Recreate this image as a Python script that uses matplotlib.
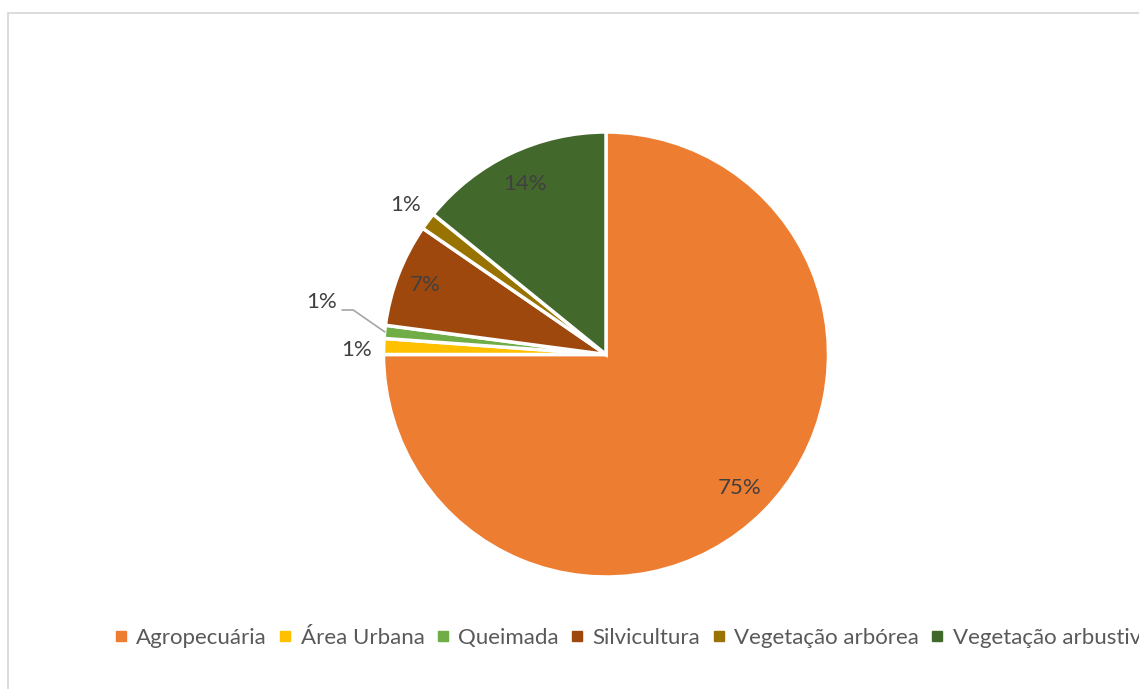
import numpy as np
import matplotlib
matplotlib.use("Agg")
import matplotlib.pyplot as plt
from matplotlib.lines import Line2D
from matplotlib.patches import Rectangle

categories = ["Agropecuária", "Área Urbana", "Queimada", "Silvicultura",
              "Vegetação arbórea", "Vegetação arbustiva"]
values = [75.0, 1.15, 0.95, 7.5, 1.25, 14.15]
labels = ["75%", "1%", "1%", "7%", "1%", "14%"]
colors = ["#ED7D31", "#FFC000", "#70AD47", "#9E480E", "#997300", "#43682B"]
# label radius (fraction of pie radius) per slice
label_r = [0.85, 1.12, 1.31, 0.87, 1.125, 0.85]

plt.rcParams['font.family'] = ['Lato', 'DejaVu Sans']

W, H = 1139, 689
fig = plt.figure(figsize=(W/100, H/100), dpi=100)

# chart border
fig.add_artist(Rectangle((8/W, -0.1), 2, 1 - 13/H + 0.1, transform=fig.transFigure,
                         fill=False, edgecolor="#D9D9D9", linewidth=1.3))

cx, cy, R = 606, 354.5, 222.5
ax = fig.add_axes([(cx - R)/W, (H - cy - R)/H, 2*R/W, 2*R/H])

wedges, _ = ax.pie(values, colors=colors, startangle=90, counterclock=False,
                   radius=1, wedgeprops=dict(edgecolor="white", linewidth=2.5),
                   normalize=True)
ax.set_aspect('auto')
ax.set_xlim(-1, 1)
ax.set_ylim(-1, 1)
ax.axis('off')

FS = 16
for i, w in enumerate(wedges):
    mid = np.deg2rad((w.theta1 + w.theta2) / 2)
    x, y = label_r[i]*np.cos(mid), label_r[i]*np.sin(mid)
    if i == 2:
        ex, ey = np.cos(mid), np.sin(mid)
        ax.plot([ex, -1.136, -1.185], [ey, 0.2, 0.2], color="#A6A6A6", lw=1.2,
                clip_on=False)
        ax.text(-1.21, 0.236, labels[i], ha='right', va='center', fontsize=FS,
                color="#404040")
    elif i == 1:
        ax.text(x, y - 0.02, labels[i], ha='center', va='center', fontsize=FS,
                color="#404040")
    else:
        ax.text(x, y, labels[i], ha='center', va='center', fontsize=FS,
                color="#404040")

handles = [Line2D([], [], marker='s', linestyle='none', markersize=7,
                  markerfacecolor=c, markeredgecolor=c) for c in colors]
leg = fig.legend(handles, categories, loc='center left',
                 bbox_to_anchor=(115/W, 1 - 638/H), ncol=6, frameon=False,
                 fontsize=FS, handlelength=0.5, handletextpad=0.45,
                 columnspacing=0.57, borderaxespad=0, borderpad=0)
for t in leg.get_texts():
    t.set_color("#595959")

fig.savefig("out.png", dpi=100)
